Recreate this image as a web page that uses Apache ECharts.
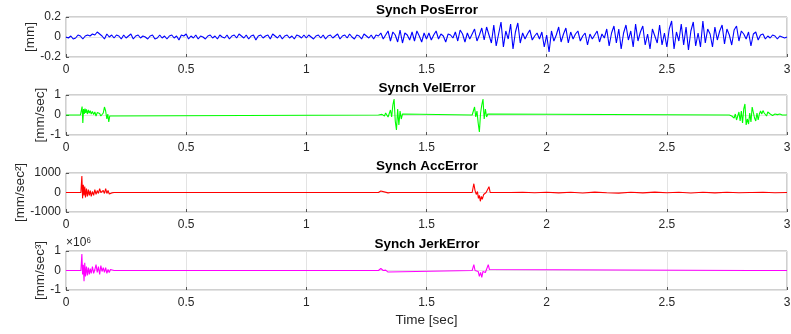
<!DOCTYPE html>
<html>
<head>
<meta charset="utf-8">
<script src="https://cdn.jsdelivr.net/npm/echarts@6/dist/echarts.min.js"></script>
<style>
  html, body { margin: 0; padding: 0; background: #fff; }
  #chart { width: 791px; height: 334px; }
</style>
</head>
<body>
<div id="chart"></div>
<script>
// titles / labels
var titles = ['Synch PosError', 'Synch VelError', 'Synch AccError', 'Synch JerkError'];
var yNames = ['[mm]', '[mm/sec]', '[mm/sec²]', '[mm/sec³]'];
var colors = ['#0000ff', '#00ff00', '#ff0000', '#ff00ff'];
var xTicks = [0, 0.5, 1, 1.5, 2, 2.5, 3];

// position error, one sample every 10 ms (0 .. 3 s)
var posStep = 0.01;
var posError = [
  0, -0.01, 0.01, -0.02, -0.01, 0.02, 0.01, -0.02, 0.01, 0.02,
  0.01, 0.03, 0.02, 0.05, 0.03, 0.01, -0.02, 0.03, 0, 0.02,
  -0.01, 0.02, 0.01, -0.02, 0.02, -0.01, 0.01, 0.03, -0.02, 0.01,
  0.02, -0.01, 0.01, 0, -0.02, 0.01, 0.02, -0.02, -0.01, 0.02,
  -0.01, 0.01, -0.02, 0.01, 0.02, -0.01, 0.01, -0.03, 0.02, 0.01,
  0.03, -0.02, 0.01, -0.01, 0.02, -0.02, 0.01, 0, -0.02, 0.01,
  0.02, -0.01, 0.01, -0.02, 0.02, 0, -0.01, 0.02, -0.02, 0.01,
  0.02, -0.01, 0.03, 0.01, -0.01, 0.02, -0.02, 0.01, 0.02, -0.03,
  0.01, 0.02, -0.01, 0.01, 0.02, -0.02, 0.03, 0.01, -0.01, 0.02,
  -0.02, 0.01, 0.02, -0.01, 0.01, -0.02, 0.02, 0.01, -0.01, 0.02,
  -0.01, 0.02, 0, -0.02, 0.01, 0.02, -0.01, 0.02, -0.02, 0.01,
  0.02, -0.01, 0.01, 0.03, -0.02, 0.01, 0.02, -0.01, 0.03, 0,
  -0.02, 0.02, 0.01, -0.02, 0.03, 0.01, -0.01, 0.02, -0.02, 0.02,
  0.01, 0.04, -0.02, 0.02, 0.06, -0.04, 0.05, 0.02, -0.05, 0.07,
  -0.06, 0.04, 0.02, -0.03, 0.05, -0.04, 0.06, 0.01, -0.05, 0.04,
  -0.02, 0.04, -0.03, 0.02, 0.06, -0.02, 0.03, 0.01, -0.05, 0.03,
  0.02, -0.01, 0.05, -0.04, 0.07, 0.03, -0.05, 0.04, -0.02, 0.03,
  0.08, -0.04, 0.02, 0.09, -0.03, 0.1, 0.02, -0.06, 0.12, -0.09,
  0.03, 0.15, -0.1, 0.06, -0.02, 0.13, -0.12, 0.05, 0.14, -0.06,
  0.04, -0.02, 0.03, 0.07, -0.03, 0.01, 0.04, -0.02, 0.05, -0.1,
  0.02, -0.15, 0.06, -0.04, 0.02, 0.1, -0.05, 0.03, 0.09, -0.06,
  0.05, -0.02, 0.03, 0.06, -0.04, 0.01, 0.04, -0.08, 0.03, -0.02,
  0.02, 0.06, -0.05, 0.03, -0.01, 0.08, -0.09, 0.04, 0.11, -0.06,
  0.08, -0.12, 0.04, 0.12, -0.03, 0.06, -0.1, 0.13, -0.04, 0.05,
  0.11, -0.08, 0.03, -0.12, 0.08, 0.01, -0.06, 0.12, -0.08, 0.04,
  -0.1, 0.08, 0.16, -0.12, 0.05, -0.04, 0.13, -0.08, 0.1, -0.13,
  0.06, 0.15, -0.09, 0.04, -0.1, 0.16, -0.06, 0.08, 0.03, -0.1,
  0.1, -0.03, 0.06, 0.12, -0.07, 0.08, 0.02, -0.08, 0.07, 0.11,
  -0.04, 0.06, 0.03, -0.02, 0.05, -0.09, 0.03, 0.05, -0.03, 0.02,
  0.03, -0.02, 0.01, -0.01, 0.02, 0.01, -0.02, 0.01, 0, -0.01,
  0
];

// velocity error [time, value]
var velError = [
  [0, 0], [0.06, 0], [0.064, 0.1], [0.067, 0.42], [0.07, -0.4], [0.073, 0.3], [0.076, 0.05],
  [0.079, 0.32], [0.082, 0.1], [0.085, 0.28], [0.089, 0.05], [0.093, 0.25], [0.097, 0.1],
  [0.101, 0.22], [0.105, 0.05], [0.11, 0.18], [0.115, 0.02], [0.12, 0.15], [0.125, -0.05],
  [0.13, 0.12], [0.135, 0.02], [0.14, 0.08], [0.145, -0.05], [0.15, 0.05], [0.155, 0.1],
  [0.16, 0.4], [0.165, 0.2], [0.17, -0.2], [0.174, 0.05], [0.178, -0.35], [0.182, -0.05],
  [0.186, 0], [1.3, 0], [1.315, 0.03], [1.325, -0.05], [1.33, 0.1], [1.34, -0.1], [1.35, 0.25],
  [1.355, -0.1], [1.36, 0.5], [1.365, 0.8], [1.37, -0.3], [1.375, -0.75], [1.38, 0.3],
  [1.385, -0.5], [1.39, 0.2], [1.395, -0.2], [1.4, 0.05], [1.405, 0],
  [1.69, 0], [1.695, 0.1], [1.7, 0.4], [1.705, -0.1], [1.71, 0.2], [1.715, -0.4], [1.72, -0.85],
  [1.725, 0.1], [1.73, 0.5], [1.735, 0.8], [1.74, -0.2], [1.745, 0.3], [1.75, -0.1],
  [1.755, 0.05], [1.76, 0], [2.76, 0], [2.77, -0.05], [2.78, -0.15], [2.785, 0.05],
  [2.79, -0.25], [2.795, -0.05], [2.8, 0.15], [2.805, -0.3], [2.81, 0.2], [2.815, -0.4],
  [2.82, 0.3], [2.825, 0.55], [2.83, -0.5], [2.835, -0.2], [2.84, -0.45], [2.845, 0.1],
  [2.85, -0.35], [2.855, 0.4], [2.86, 0.45], [2.865, -0.15], [2.87, -0.3], [2.875, 0.1],
  [2.88, -0.25], [2.885, 0.05], [2.89, 0.2], [2.895, 0.05], [2.9, 0.22], [2.905, 0.1],
  [2.91, 0.18], [2.915, -0.05], [2.92, 0.15], [2.93, 0.05], [2.935, 0.12], [2.94, -0.02],
  [2.95, 0.05], [2.96, 0.02], [2.97, 0.05], [2.98, 0], [3, 0]
];

// acceleration error [time, value]
var accError = [
  [0, 0], [0.062, 0], [0.066, 850], [0.069, -300], [0.072, 400], [0.075, -150], [0.078, 300],
  [0.081, -250], [0.085, 200], [0.089, -200], [0.093, 150], [0.097, -150], [0.101, 100],
  [0.105, -200], [0.11, 50], [0.115, -150], [0.12, 150], [0.125, -100], [0.13, 100],
  [0.135, -50], [0.14, 200], [0.145, 0], [0.15, -100], [0.155, 100], [0.16, -50], [0.165, 200],
  [0.17, -50], [0.175, 100], [0.18, -80], [0.185, 0], [0.19, -20], [0.2, 0],
  [1.3, 0], [1.31, 80], [1.315, 0], [1.34, -20], [1.35, 0],
  [1.69, 0], [1.697, 450], [1.702, 100], [1.707, -100], [1.712, 50], [1.716, -300],
  [1.72, -150], [1.724, -450], [1.728, -200], [1.732, -350], [1.738, -100], [1.748, 0],
  [1.754, 100], [1.76, 300], [1.765, 0], [1.85, 0], [1.9, 10], [1.95, -15],
  [2.0, 10], [2.05, -20], [2.1, 15], [2.15, -25], [2.2, 20], [2.25, -15], [2.3, -30],
  [2.35, 10], [2.4, -20], [2.45, 20], [2.5, -15], [2.55, 10], [2.6, -25], [2.65, 15],
  [2.7, -20], [2.75, 10], [2.8, -15], [2.845, 0], [2.85, 80], [2.855, 0], [2.9, 10],
  [2.95, -10], [3, 0]
];

// jerk error [time, value x1e6]
var jerkError = [
  [0, 0], [0.062, 0], [0.066, 0.85], [0.069, -0.2], [0.072, 0.3], [0.075, -0.55], [0.078, 0.4],
  [0.081, -0.3], [0.085, 0.2], [0.089, -0.25], [0.093, 0.15], [0.097, -0.2], [0.101, 0.1],
  [0.105, -0.15], [0.11, 0.2], [0.115, -0.15], [0.12, 0.05], [0.125, 0.3], [0.13, -0.1],
  [0.135, 0.2], [0.14, -0.2], [0.145, 0.25], [0.15, -0.05], [0.155, 0.15], [0.16, -0.1],
  [0.165, 0.15], [0.17, -0.15], [0.175, 0.05], [0.18, -0.1], [0.185, 0.05], [0.19, -0.05],
  [0.2, 0], [1.3, 0], [1.31, 0.1], [1.315, 0.15], [1.32, 0], [1.33, 0.02], [1.34, -0.08],
  [1.345, 0], [1.69, 0], [1.697, 0.3], [1.702, 0], [1.71, -0.1], [1.715, -0.05], [1.72, -0.3],
  [1.725, -0.1], [1.73, -0.35], [1.735, -0.05], [1.745, -0.1], [1.75, 0], [1.757, 0.3],
  [1.762, 0.05], [1.767, 0], [2.85, 0], [2.855, 0.1], [2.86, 0], [3, 0]
];

var yRanges = [[-0.2, 0.2, 0.2], [-1, 1, 1], [-1000, 1000, 1000], [-1, 1, 1]];
var gridTops = [17, 95, 173, 251];
var gridHeights = [40, 40, 39, 39];
var nameGaps = [29, 19, 39, 19];
var titleTops = [3, 81, 159, 237];

var font = 'Liberation Sans, Arial, Helvetica, sans-serif';
var posData = posError.map(function (v, i) { return [+(i * posStep).toFixed(2), v]; });
var seriesData = [posData, velError, accError, jerkError];

var grids = [], xAxes = [], yAxes = [], series = [], titleList = [];
for (var i = 0; i < 4; i++) {
  grids.push({
    left: 66, right: 4, top: gridTops[i], height: gridHeights[i],
    outerBoundsMode: 'none', containLabel: false,
    show: true, borderColor: '#a0a0a0', borderWidth: 1, backgroundColor: '#fff'
  });
  titleList.push({
    text: titles[i], left: 427, top: titleTops[i], textAlign: 'center', padding: 0,
    textStyle: { fontFamily: font, fontSize: 13.5, fontWeight: 'bold', color: '#000' }
  });
  xAxes.push({
    type: 'value', gridIndex: i, min: 0, max: 3, interval: 0.5,
    axisLine: { show: false, onZero: false },
    axisTick: { show: true, inside: true, length: 3, lineStyle: { color: '#555' } },
    splitLine: { show: true, lineStyle: { color: '#e3e3e3', width: 1 } },
    axisLabel: { margin: 7, fontFamily: font, fontSize: 12, color: '#262626' },
    name: i === 3 ? 'Time [sec]' : '',
    nameLocation: 'middle', nameGap: 23, nameMoveOverlap: false,
    nameTextStyle: { fontFamily: font, fontSize: 13.5, color: '#262626' }
  });
  yAxes.push({
    type: 'value', gridIndex: i, min: yRanges[i][0], max: yRanges[i][1], interval: yRanges[i][2],
    axisLine: { show: false, onZero: false },
    axisTick: { show: true, inside: true, length: 3, lineStyle: { color: '#555' } },
    splitLine: { show: true, lineStyle: { color: '#e3e3e3', width: 1 } },
    axisLabel: {
      margin: 5, fontFamily: font, fontSize: 12, color: '#262626',
      formatter: function (v) { return String(v); }
    },
    name: yNames[i], nameLocation: 'middle', nameGap: nameGaps[i], nameMoveOverlap: false,
    nameTextStyle: { fontFamily: font, fontSize: 13.5, color: '#262626' }
  });
  series.push({
    type: 'line', xAxisIndex: i, yAxisIndex: i, data: seriesData[i],
    showSymbol: false, symbol: 'none', animation: false,
    lineStyle: { color: colors[i], width: 1.1 }
  });
}

var option = {
  backgroundColor: '#fff',
  animation: false,
  title: titleList,
  grid: grids,
  xAxis: xAxes,
  yAxis: yAxes,
  series: series,
  graphic: [{
    type: 'text', left: 66, top: 237,
    style: { text: '×10⁶', font: '12px ' + font, fill: '#262626' }
  }]
};

var myChart = echarts.init(document.getElementById('chart'));
myChart.setOption(option, true);
</script>
</body>
</html>
